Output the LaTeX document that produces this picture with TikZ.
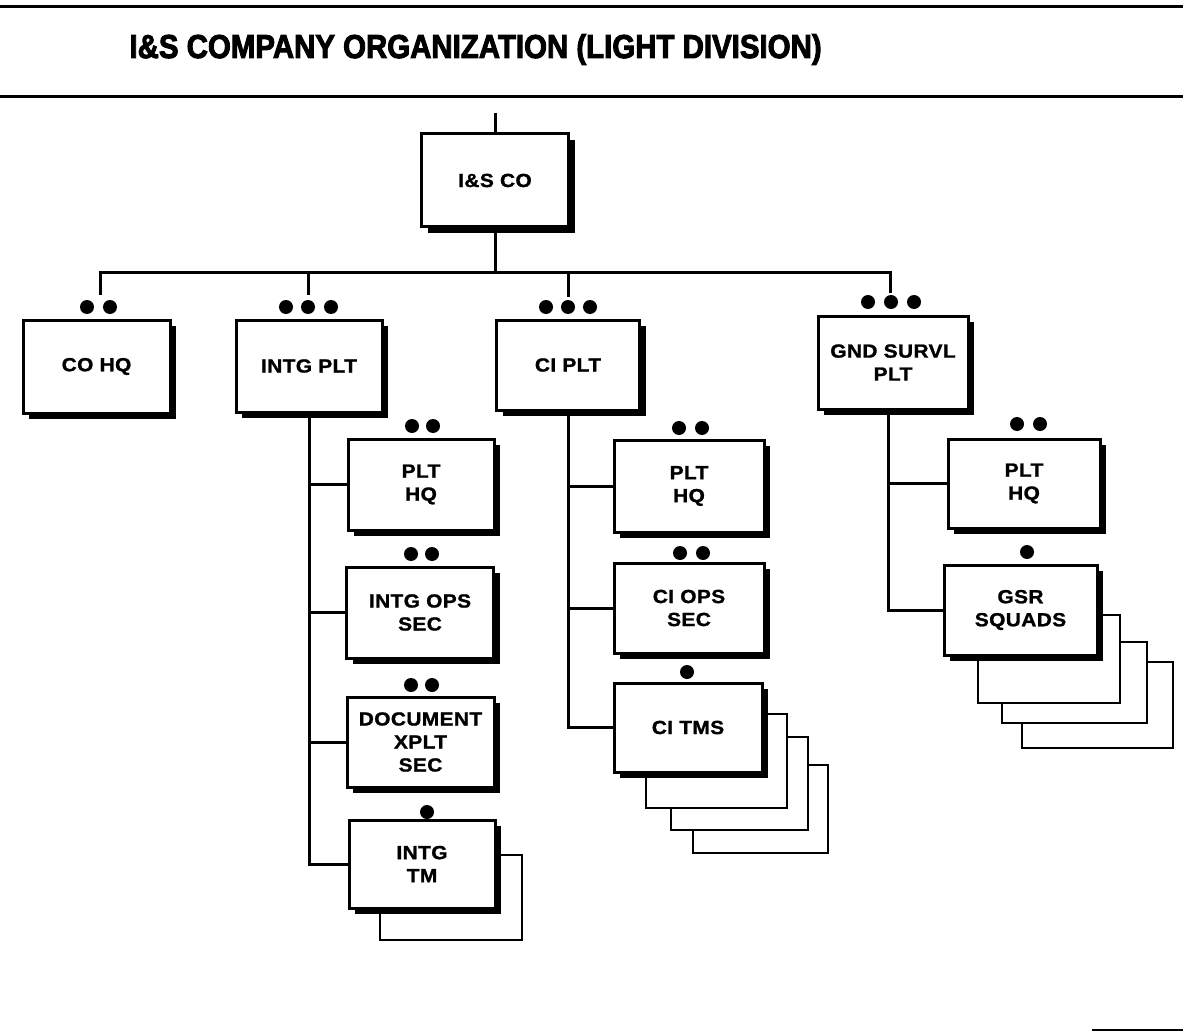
\documentclass[tikz,border=0pt]{standalone}
\usepackage{graphicx}
\usepackage{fontspec}
\setmainfont{Liberation Sans}
\newfontfamily\boxfont{Liberation Sans}[FakeStretch=1.1, LetterSpace=2, FakeBold=1.2]
\newfontfamily\titlefont{Liberation Sans}[FakeBold=3]
\usetikzlibrary{shadows}
\begin{document}
\begin{tikzpicture}[x=1pt,y=-1pt,line width=3pt,
  orgbox/.style={draw, fill=white, minimum width=146, minimum height=91, inner sep=2pt,
    align=center, font=\boxfont\bfseries\fontsize{19pt}{23pt}\selectfont,
    drop shadow={shadow xshift=6pt, shadow yshift=-6pt, fill=black, opacity=1}},
  backbox/.style={draw, fill=white, inner sep=0pt, line width=2.6pt},
  blob/.style={circle, fill=black, inner sep=0pt, minimum size=14pt},
  rule/.style={line width=3pt}]
\useasboundingbox (0,0) rectangle (1183,1032);

% title and rules
\coordinate (r1a) at (0,7);  \coordinate (r1b) at (1183,7);
\coordinate (r2a) at (0,97); \coordinate (r2b) at (1183,97);
\draw[rule] (r1a) -- (r1b);
\draw[rule] (r2a) -- (r2b);
\coordinate (r3a) at (1092,1030); \coordinate (r3b) at (1183,1030);
\draw[line width=1.5pt] (r3a) -- (r3b);
\node[anchor=base west, inner sep=0pt] (title) at (128,58)
  {\resizebox{692pt}{24pt}{\titlefont\bfseries I\&S COMPANY ORGANIZATION (LIGHT DIVISION)}};

% top
\node[orgbox, minimum width=147, minimum height=93] (isco) at (495,180.5) {I\&S CO};

% row 2
\node[orgbox, minimum width=147, minimum height=93] (cohq) at (96.5,366.5) {CO HQ};
\node[orgbox, minimum width=146, minimum height=92] (intgplt) at (309,366) {INTG PLT};
\node[orgbox, minimum width=143, minimum height=90] (ciplt) at (568,365) {CI PLT};
\node[orgbox, minimum width=150, minimum height=93] (gnd) at (893,362.5) {GND SURVL\\PLT};

% INTG column
\node[orgbox, minimum width=146, minimum height=91] (iplthq) at (421,484.5) {PLT\\HQ};
\node[orgbox, minimum width=147, minimum height=91] (iops) at (420,612.5) {INTG OPS\\SEC};
\node[orgbox, minimum width=147, minimum height=90] (idoc) at (420.5,742) {DOCUMENT\\XPLT\\SEC};
\node[backbox, minimum width=142, minimum height=85] (itmb1) at (451,897.5) {};
\node[orgbox, minimum width=146, minimum height=88] (itm) at (422,864) {INTG\\TM};

% CI column
\node[orgbox, minimum width=150, minimum height=92] (cplthq) at (689,486) {PLT\\HQ};
\node[orgbox, minimum width=150, minimum height=90] (cops) at (689,608) {CI OPS\\SEC};
\node[backbox, minimum width=135, minimum height=88] (ctmsb3) at (760.5,809) {};
\node[backbox, minimum width=137, minimum height=93] (ctmsb2) at (739.5,783.5) {};
\node[backbox, minimum width=141, minimum height=94] (ctmsb1) at (716.5,761) {};
\node[orgbox, minimum width=148, minimum height=89] (ctms) at (688,727.5) {CI TMS};

% GND column
\node[orgbox, minimum width=152, minimum height=89] (gplthq) at (1024,483.5) {PLT\\HQ};
\node[backbox, minimum width=151, minimum height=86] (ggsrb3) at (1097.5,705) {};
\node[backbox, minimum width=145, minimum height=81] (ggsrb2) at (1074.5,682.5) {};
\node[backbox, minimum width=142, minimum height=88] (ggsrb1) at (1049,659) {};
\node[orgbox, minimum width=153, minimum height=90] (ggsr) at (1020.5,610) {GSR\\SQUADS};

% dots
\foreach \px/\py in {87/307,110/307, 286/307,308/307,331/307, 546/307,568/307,590/307,
   868/302,891/302,914/302, 412/426,433/426, 411/554,432/554, 411/685,432/685, 427/812,
   679/428,702/428, 680/553,703/553, 687/672, 1017/424,1040/424, 1027/552}
  \node[blob] at (\px,\py) {};

% connectors
\coordinate (stemtop) at (495,113);
\coordinate (bus) at (495,273);
\coordinate (dco) at (100,295);
\coordinate (din) at (308,295);
\coordinate (dci) at (568,297);
\coordinate (dgn) at (890,293);
\draw (stemtop) -- (isco.north);
\draw (isco.south) -- (bus);
\draw (dco) |- (bus) -| (dgn);
\draw (din) -- (din |- bus);
\draw (dci) -- (dci |- bus);

\draw (intgplt.south) |- (itm.west);
\draw (intgplt.south |- iplthq.west) -- (iplthq.west);
\draw (intgplt.south |- iops.west) -- (iops.west);
\draw (intgplt.south |- idoc.west) -- (idoc.west);

\draw (ciplt.south) |- (ctms.west);
\draw (ciplt.south |- cplthq.west) -- (cplthq.west);
\draw (ciplt.south |- cops.west) -- (cops.west);

\coordinate (gcol) at ([xshift=-5pt]gnd.south);
\draw (gcol) |- (ggsr.west);
\draw (gcol |- gplthq.west) -- (gplthq.west);
\end{tikzpicture}
\end{document}
